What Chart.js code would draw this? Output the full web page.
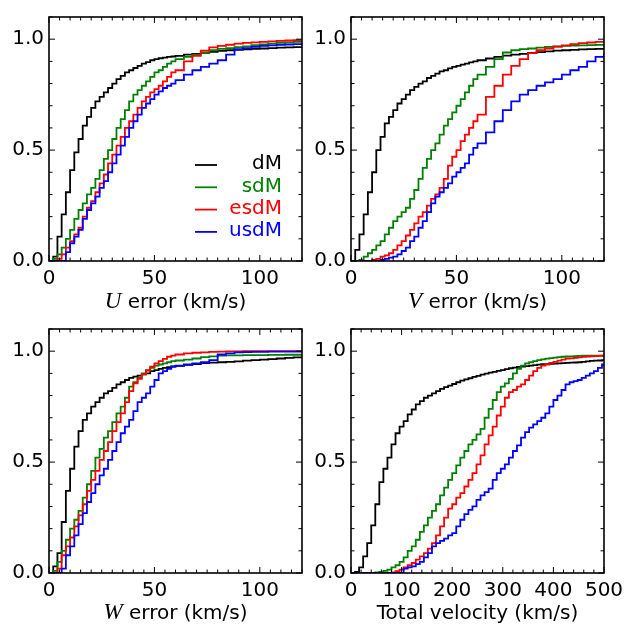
<!DOCTYPE html>
<html>
<head>
<meta charset="utf-8">
<script src="https://cdn.jsdelivr.net/npm/chart.js@4.4.0/dist/chart.umd.min.js"></script>
<style>
body { margin: 0; background: #fff; }
#wrap { position: relative; width: 634px; height: 625px; overflow: hidden; font-family: "DejaVu Sans"; }
canvas { position: absolute; }
.xl { position: absolute; width: 253px; text-align: center; font-size: 20px; line-height: 24px; color: #000; white-space: nowrap; }
.xl i { font-family: "Liberation Serif"; font-size: 23px; }
</style>
</head>
<body>
<div id="wrap">
  <canvas id="c1" width="340" height="300" style="left:0px;top:0px"></canvas>
  <canvas id="c2" width="340" height="300" style="left:302px;top:0px"></canvas>
  <canvas id="c3" width="340" height="300" style="left:0px;top:312px"></canvas>
  <canvas id="c4" width="340" height="300" style="left:302px;top:312px"></canvas>
  <div class="xl" style="left:49px;top:289px"><i>U</i> error (km/s)</div>
  <div class="xl" style="left:351px;top:289px"><i>V</i> error (km/s)</div>
  <div class="xl" style="left:49px;top:600px"><i>W</i> error (km/s)</div>
  <div class="xl" style="left:351px;top:600px">Total velocity (km/s)</div>
</div>
<script>
// names and colours of the four samples
const names = ['dM', 'sdM', 'esdM', 'usdM'];
const colors = ['#000000', '#008000', '#ff0000', '#0000ff'];

// bin edges for the U, V, W error panels (km/s)
const xErr = [0,2,4,6,8,10,12,14,16,18,20,22,24,26,28,30,32,34,36,38,40,42,44,46,48,50,52,54,56,58,60,
              64,68,72,76,80,84,88,92,96,100,104,108,112,116,120];

// U error, cumulative fraction
const uDM   = [0,0.02,0.11,0.21,0.31,0.41,0.49,0.55,0.61,0.65,0.69,0.72,0.74,0.76,0.78,0.80,0.82,0.835,0.85,0.86,0.87,0.88,0.89,0.897,0.905,0.91,0.914,0.917,0.92,0.922,0.925,
               0.93,0.934,0.938,0.943,0.947,0.95,0.952,0.954,0.956,0.958,0.96,0.962,0.963,0.964,0.965];
const uSDM  = [0,0.01,0.03,0.06,0.10,0.14,0.19,0.23,0.26,0.30,0.33,0.37,0.41,0.46,0.50,0.55,0.60,0.64,0.68,0.72,0.75,0.77,0.79,0.81,0.83,0.85,0.86,0.875,0.89,0.90,0.91,
               0.92,0.93,0.94,0.95,0.956,0.96,0.964,0.968,0.973,0.977,0.98,0.984,0.986,0.988,0.99];
const uESDM = [0,0,0.01,0.03,0.06,0.09,0.12,0.15,0.20,0.24,0.27,0.31,0.35,0.39,0.44,0.48,0.52,0.56,0.60,0.63,0.66,0.69,0.72,0.74,0.76,0.775,0.79,0.81,0.83,0.85,0.86,
               0.90,0.925,0.948,0.963,0.97,0.975,0.98,0.983,0.986,0.988,0.99,0.992,0.994,0.996,0.997];
const uUSDM = [0,0,0,0,0.04,0.08,0.11,0.14,0.19,0.23,0.26,0.29,0.33,0.36,0.40,0.44,0.48,0.52,0.56,0.60,0.63,0.66,0.69,0.71,0.73,0.75,0.765,0.78,0.79,0.80,0.815,
               0.84,0.86,0.875,0.89,0.905,0.93,0.955,0.96,0.965,0.97,0.972,0.974,0.976,0.978,0.98];

// V error
const vDM   = [0,0.05,0.12,0.21,0.31,0.40,0.50,0.56,0.62,0.65,0.68,0.71,0.73,0.75,0.77,0.785,0.80,0.81,0.825,0.835,0.845,0.855,0.86,0.868,0.875,0.88,0.885,0.89,0.895,0.90,0.905,
               0.913,0.92,0.926,0.93,0.934,0.938,0.942,0.945,0.948,0.95,0.952,0.954,0.955,0.956,0.957];
const vSDM  = [0,0,0.005,0.02,0.035,0.05,0.07,0.09,0.12,0.15,0.18,0.20,0.22,0.24,0.28,0.32,0.37,0.42,0.46,0.50,0.53,0.57,0.61,0.64,0.67,0.70,0.73,0.76,0.79,0.82,0.84,
               0.875,0.91,0.94,0.95,0.955,0.958,0.962,0.965,0.967,0.97,0.971,0.972,0.973,0.974,0.975];
const vESDM = [0,0,0,0,0,0.005,0.01,0.02,0.025,0.035,0.05,0.07,0.09,0.115,0.14,0.17,0.20,0.22,0.25,0.28,0.30,0.33,0.37,0.43,0.47,0.50,0.54,0.57,0.60,0.63,0.66,
               0.74,0.79,0.84,0.88,0.91,0.937,0.95,0.958,0.966,0.972,0.978,0.982,0.985,0.988,0.99];
const vUSDM = [0,0,0,0,0,0,0,0.005,0.01,0.015,0.02,0.03,0.045,0.06,0.09,0.11,0.15,0.18,0.22,0.26,0.29,0.31,0.33,0.35,0.38,0.40,0.42,0.44,0.48,0.51,0.53,
               0.58,0.63,0.68,0.72,0.75,0.77,0.79,0.805,0.82,0.84,0.86,0.875,0.90,0.92,0.935];

// W error
const wDM   = [0,0.03,0.09,0.23,0.37,0.47,0.57,0.64,0.69,0.72,0.75,0.77,0.79,0.81,0.82,0.835,0.85,0.86,0.87,0.88,0.885,0.89,0.895,0.90,0.91,0.915,0.92,0.925,0.928,0.931,0.934,
               0.938,0.942,0.946,0.948,0.95,0.952,0.954,0.957,0.96,0.962,0.964,0.967,0.97,0.972,0.975];
const wSDM  = [0,0.01,0.05,0.10,0.15,0.20,0.24,0.28,0.34,0.40,0.46,0.52,0.56,0.61,0.64,0.68,0.72,0.75,0.79,0.84,0.86,0.88,0.90,0.915,0.925,0.935,0.94,0.945,0.95,0.955,0.958,
               0.962,0.967,0.973,0.977,0.98,0.981,0.981,0.982,0.982,0.982,0.983,0.983,0.984,0.984,0.984];
const wESDM = [0,0,0.02,0.08,0.12,0.16,0.21,0.26,0.31,0.37,0.42,0.46,0.51,0.55,0.59,0.64,0.68,0.72,0.77,0.82,0.855,0.875,0.895,0.913,0.93,0.945,0.955,0.965,0.975,0.98,0.985,
               0.99,0.993,0.995,0.997,0.998,0.999,0.999,1,1,1,1,1,1,1,1];
const wUSDM = [0,0,0,0.02,0.08,0.12,0.17,0.22,0.27,0.32,0.36,0.40,0.44,0.47,0.51,0.55,0.59,0.63,0.66,0.69,0.73,0.77,0.79,0.81,0.84,0.87,0.90,0.91,0.92,0.93,0.935,
               0.94,0.945,0.95,0.96,0.985,0.99,0.995,0.996,0.997,0.997,0.998,0.998,0.998,0.998,0.998];

// bin edges for total velocity (km/s)
const xTot = [0,8,16,24,32,40,48,56,64,72,80,88,96,104,112,120,128,136,144,152,160,168,176,184,192,200,
              208,216,224,232,240,248,256,264,272,280,288,296,304,312,320,328,336,344,352,360,368,376,384,392,400,
              408,416,424,432,440,448,456,464,472,480,488,496,500];

const tDM   = [0,0.005,0.025,0.075,0.135,0.215,0.31,0.41,0.47,0.52,0.58,0.63,0.66,0.685,0.715,0.737,0.76,0.775,0.79,0.80,0.81,0.82,0.83,0.838,0.845,0.852,
               0.86,0.867,0.873,0.878,0.884,0.889,0.894,0.899,0.903,0.907,0.911,0.915,0.919,0.923,0.926,0.929,0.931,0.933,0.935,0.937,0.939,0.941,0.942,0.943,0.944,
               0.945,0.946,0.947,0.948,0.949,0.95,0.952,0.954,0.956,0.957,0.958,0.96,0.96];
const tSDM  = [0,0,0,0,0,0,0.003,0.005,0.01,0.015,0.025,0.035,0.05,0.07,0.10,0.12,0.15,0.185,0.215,0.25,0.28,0.31,0.35,0.385,0.42,0.45,
               0.485,0.52,0.55,0.58,0.60,0.625,0.65,0.70,0.74,0.78,0.815,0.84,0.855,0.875,0.90,0.92,0.935,0.945,0.95,0.955,0.96,0.963,0.966,0.969,0.971,
               0.973,0.975,0.976,0.977,0.978,0.979,0.98,0.98,0.98,0.98,0.98,0.98,0.98];
const tESDM = [0,0,0,0,0,0,0,0,0,0,0.003,0.008,0.015,0.025,0.035,0.045,0.06,0.075,0.09,0.11,0.135,0.17,0.21,0.25,0.29,0.31,
               0.34,0.36,0.39,0.42,0.45,0.49,0.53,0.58,0.62,0.66,0.71,0.75,0.79,0.815,0.825,0.84,0.85,0.87,0.89,0.91,0.925,0.935,0.94,0.947,0.952,
               0.957,0.962,0.966,0.968,0.97,0.972,0.974,0.976,0.977,0.978,0.979,0.98,0.98];
const tUSDM = [0,0,0,0,0,0,0,0,0,0,0,0,0,0.02,0.025,0.03,0.04,0.05,0.07,0.09,0.12,0.135,0.145,0.155,0.17,0.18,
               0.21,0.24,0.265,0.285,0.30,0.33,0.35,0.365,0.38,0.42,0.45,0.47,0.49,0.52,0.55,0.575,0.61,0.635,0.655,0.67,0.685,0.70,0.72,0.75,0.78,
               0.80,0.825,0.85,0.86,0.865,0.87,0.88,0.89,0.90,0.91,0.925,0.94,0.943];

// y axis tick labels
const yTicks = [0, 0.5, 1.0];

Chart.defaults.font.family = 'DejaVu Sans';
Chart.defaults.font.size = 20;
Chart.defaults.color = '#000';

// matplotlib style frame: box plus inward ticks on all four sides
const frame = {
    id: 'frame',
    afterDatasetsDraw(chart, args, opts) {
        const ctx = chart.ctx, a = chart.chartArea;
        const sx = chart.scales.x, sy = chart.scales.y;
        ctx.save();
        ctx.strokeStyle = '#000';
        ctx.lineWidth = 1;
        ctx.beginPath();
        for (let k = 0; k * opts.xMinor <= sx.max + 1e-9; k++) {
            const len = k % opts.xRatio === 0 ? 6 : 3.5;
            const px = sx.getPixelForValue(k * opts.xMinor);
            ctx.moveTo(px, a.bottom); ctx.lineTo(px, a.bottom - len);
            ctx.moveTo(px, a.top); ctx.lineTo(px, a.top + len);
        }
        for (let k = 0; k * 0.1 <= sy.max + 1e-9; k++) {
            const len = k % 5 === 0 ? 6 : 3.5;
            const py = sy.getPixelForValue(k * 0.1);
            ctx.moveTo(a.left, py); ctx.lineTo(a.left + len, py);
            ctx.moveTo(a.right, py); ctx.lineTo(a.right - len, py);
        }
        ctx.stroke();
        ctx.lineWidth = 1.6;
        ctx.strokeRect(a.left, a.top, a.right - a.left, a.bottom - a.top);
        ctx.restore();
    }
};

// legend with text right aligned, like the original
const legendBox = {
    id: 'legendBox',
    afterDatasetsDraw(chart, args, opts) {
        if (!opts.show) return;
        const ctx = chart.ctx, a = chart.chartArea;
        ctx.save();
        ctx.font = '20px "DejaVu Sans"';
        ctx.textAlign = 'right';
        ctx.textBaseline = 'middle';
        chart.data.datasets.forEach(function(ds, i) {
            const y = a.bottom - 96 + i * 22.3;
            ctx.strokeStyle = ds.borderColor;
            ctx.lineWidth = 1.8;
            ctx.beginPath();
            ctx.moveTo(a.left + 146, y);
            ctx.lineTo(a.left + 168, y);
            ctx.stroke();
            ctx.fillStyle = ds.borderColor;
            ctx.fillText(ds.label, a.right - 20, y - 1);
        });
        ctx.restore();
    }
};

function makePanel(id, xs, series, xmax, xMajor, xMinor, showLegend) {
    const datasets = series.map(function(ys, i) {
        return {
            label: names[i],
            data: xs.map(function(x, j) { return { x: x, y: ys[j] }; }),
            borderColor: colors[i],
            borderWidth: 1.8,
            pointRadius: 0,
            fill: false,
            stepped: true,
            order: 4 - i
        };
    });
    return new Chart(document.getElementById(id), {
        type: 'line',
        data: { datasets: datasets },
        options: {
            responsive: false,
            animation: false,
            layout: { padding: { top: 11, right: 38, left: 0, bottom: 0 } },
            plugins: {
                legend: { display: false },
                tooltip: { enabled: false },
                frame: { xMinor: xMinor, xRatio: xMajor / xMinor },
                legendBox: { show: showLegend }
            },
            scales: {
                x: {
                    type: 'linear', min: 0, max: xmax,
                    grid: { display: false, drawTicks: false },
                    border: { display: false },
                    ticks: { stepSize: xMajor, includeBounds: false, maxRotation: 0, padding: 6 },
                    afterFit: function(s) { s.height = 39; }
                },
                y: {
                    min: 0, max: 1.1,
                    grid: { display: false, drawTicks: false },
                    border: { display: false },
                    afterBuildTicks: function(s) { s.ticks = yTicks.map(function(v) { return { value: v }; }); },
                    ticks: { padding: 5, callback: function(v) { return v.toFixed(1); } },
                    afterFit: function(s) { s.width = 49; }
                }
            }
        },
        plugins: [frame, legendBox]
    });
}

makePanel('c1', xErr, [uDM, uSDM, uESDM, uUSDM], 120, 50, 5, true);
makePanel('c2', xErr, [vDM, vSDM, vESDM, vUSDM], 120, 50, 5, false);
makePanel('c3', xErr, [wDM, wSDM, wESDM, wUSDM], 120, 50, 5, false);
makePanel('c4', xTot, [tDM, tSDM, tESDM, tUSDM], 500, 100, 20, false);
</script>
</body>
</html>
